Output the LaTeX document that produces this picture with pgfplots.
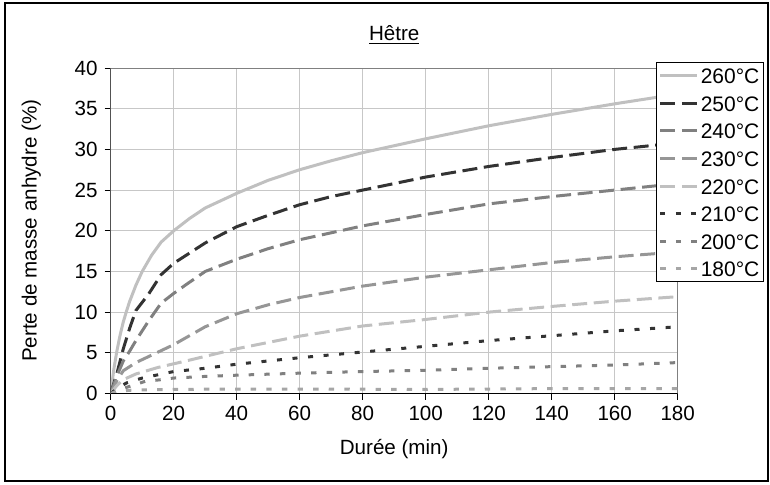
\documentclass[border=0pt]{standalone}
\usepackage{pgfplots}
\pgfplotsset{compat=1.18}
\usepackage{fontspec}
\setmainfont{Liberation Sans}
\definecolor{c260}{HTML}{C0C0C0}
\definecolor{c250}{HTML}{333333}
\definecolor{c240}{HTML}{808080}
\definecolor{c230}{HTML}{969696}
\definecolor{c220}{HTML}{C0C0C0}
\definecolor{c210}{HTML}{333333}
\definecolor{c200}{HTML}{808080}
\definecolor{c180}{HTML}{A6A6A6}
\begin{document}
\begin{tikzpicture}
\useasboundingbox (-55.35pt,-45.25pt) rectangle (329.65pt,196.75pt);
\draw[black,line width=1pt] (-53pt,-43.5pt) rectangle (328.5pt,195.5pt);
\begin{axis}[
  at={(0,0)},anchor=south west,
  scale only axis,width=283.5pt,height=162.75pt,
  xmin=0,xmax=180,ymin=0,ymax=40,
  xtick={0,20,...,180},ytick={0,5,...,40},
  grid=major,major grid style={draw=black!22,line width=0.5pt},
  axis line style={draw=black!50,line width=0.5pt},
  tick align=outside,major tick length=3pt,
  tick style={black,line width=0.5pt},
  xtick pos=left,ytick pos=left,
  /pgf/number format/assume math mode=true,
  font=\fontsize{10.3}{12}\selectfont,
  ticklabel style={font=\fontsize{10.3}{12}\selectfont},
  xlabel={Durée (min)},
  ylabel={Perte de masse anhydre (\%)},
  title={\underline{Hêtre}},
  every axis x label/.style={at={(axis description cs:0.5,-0.17)},anchor=center},
  every axis y label/.style={at={(axis description cs:-0.14,0.5)},anchor=center,rotate=90},
  every axis title/.style={at={(axis description cs:0.5,1.1)},anchor=center},
  every axis plot/.append style={line width=1.5pt},
  legend style={at={(axis description cs:1.152,1.018)},anchor=north east,
    draw=black,line width=0.5pt,fill=white,inner xsep=1pt,inner ysep=1pt,
    row sep=2.8pt,font=\fontsize{10.5}{12}\selectfont,
    nodes={inner xsep=1pt,inner ysep=1.5pt,text height=8pt,text depth=0pt}},
  legend cell align=left,
  legend image code/.code={\draw[#1] (0pt,0pt) -- (18.5pt,0pt);},
]
\addplot[c260,solid] coordinates {(0,0) (1,3) (2,5.3) (3,7.2) (4,8.8) (5,10.1) (6,11.3) (8,13.3) (10,15.0) (13,17.0) (16,18.6) (20,20.0) (25,21.5) (30,22.8) (40,24.6) (50,26.2) (60,27.5) (70,28.6) (80,29.6) (100,31.3) (120,32.9) (140,34.3) (160,35.6) (180,36.8)};
\addlegendentry{260°C}
\addplot[c250,dash pattern=on 7.5pt off 3.3pt] coordinates {(0,0) (2,2.5) (4,5.5) (6,8) (8,10.2) (12,12.2) (16,14.6) (20,16.0) (24,17.0) (30,18.5) (40,20.5) (50,21.9) (60,23.2) (70,24.2) (80,25.0) (100,26.6) (120,27.9) (140,29.0) (160,30.0) (180,30.8)};
\addlegendentry{250°C}
\addplot[c240,dash pattern=on 7.5pt off 3.3pt] coordinates {(0,0) (2,2.2) (4,4.0) (6,5.2) (8,6.5) (12,8.9) (14,10.0) (16,11.1) (20,12.3) (24,13.4) (30,15.0) (40,16.5) (50,17.8) (60,18.9) (80,20.6) (100,22.0) (120,23.3) (140,24.2) (160,25.0) (180,25.8)};
\addlegendentry{240°C}
\addplot[c230,dash pattern=on 7.5pt off 3.3pt] coordinates {(0,0) (2,1.6) (4,2.8) (8,3.8) (14,4.9) (20,6.0) (30,8.2) (40,9.8) (50,10.9) (60,11.8) (80,13.2) (100,14.3) (120,15.2) (140,16.1) (160,16.8) (180,17.4)};
\addlegendentry{230°C}
\addplot[c220,dash pattern=on 7.5pt off 3.3pt] coordinates {(0,0) (2,1.0) (4,1.7) (8,2.4) (15,3.2) (25,4.1) (40,5.5) (60,7.05) (80,8.3) (100,9.1) (120,10.0) (140,10.7) (160,11.35) (180,11.9)};
\addlegendentry{220°C}
\addplot[c210,dash pattern=on 2.5pt off 5.3pt] coordinates {(0,0) (2,0.6) (5,1.3) (10,1.9) (15,2.3) (20,2.7) (30,3.1) (40,3.6) (60,4.4) (80,5.1) (100,5.8) (120,6.5) (140,7.1) (160,7.7) (180,8.2)};
\addlegendentry{210°C}
\addplot[c200,dash pattern=on 2.7pt off 5.1pt] coordinates {(0,0) (3,0.5) (7,1.0) (11,1.5) (16,1.7) (20,1.9) (30,2.1) (40,2.25) (60,2.5) (80,2.7) (100,2.85) (120,3.1) (140,3.3) (160,3.5) (180,3.8)};
\addlegendentry{200°C}
\addplot[c180,dash pattern=on 2.7pt off 5.1pt] coordinates {(0,0) (3,0.3) (7,0.42) (20,0.5) (40,0.55) (60,0.55) (100,0.5) (140,0.6) (180,0.6)};
\addlegendentry{180°C}
\draw[black,line width=0.6pt] (rel axis cs:0,1) -- (rel axis cs:0,0) -- (rel axis cs:1,0);
\end{axis}
\end{tikzpicture}
\end{document}
